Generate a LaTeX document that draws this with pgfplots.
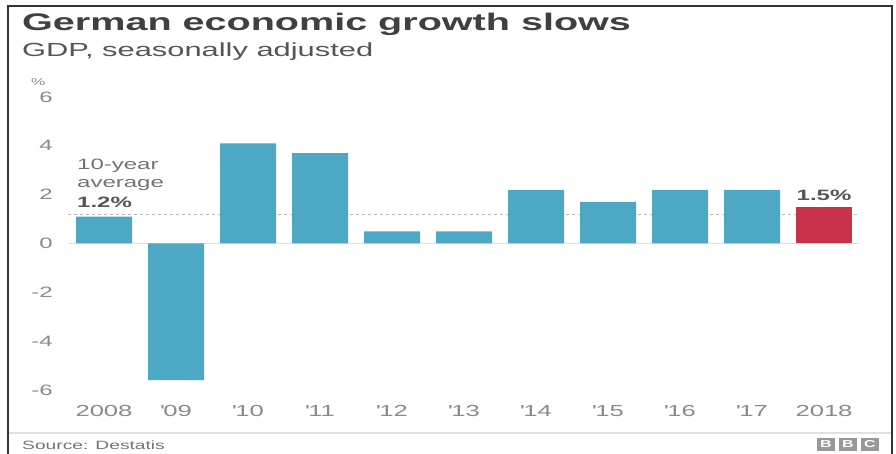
\documentclass[border=0pt]{standalone}
\usepackage{pgfplots}
\pgfplotsset{compat=1.18}
\usepackage{fontspec}
\setmainfont{Liberation Sans}[FakeStretch=1.6]
\definecolor{barblue}{HTML}{4DA8C6}
\definecolor{barred}{HTML}{C8334A}
\definecolor{titlegray}{HTML}{404040}
\definecolor{subgray}{HTML}{555555}
\definecolor{tickgray}{HTML}{8A8A8A}
\definecolor{avggray}{HTML}{C2B8B8}
\begin{document}
\begin{tikzpicture}
\useasboundingbox (0pt,0pt) rectangle (896pt,-454pt);
\fill[white] (0pt,0pt) rectangle (896pt,-454pt);
\draw[line width=2pt, color=black!80] (8pt,-454pt) -- (8pt,-6pt) -- (892pt,-6pt) -- (892pt,-454pt);
\draw[line width=1.5pt, color=black!12] (9pt,-433pt) -- (891pt,-433pt);
\node[anchor=base west, inner sep=0pt, text=titlegray, font=\bfseries\fontsize{24}{28}\selectfont] at (22pt,-31pt) {\scalebox{1.03}[1]{German economic growth slows}};
\node[anchor=base west, inner sep=0pt, text=subgray, font=\fontsize{19}{22}\selectfont] at (22pt,-57pt) {\scalebox{1.015}[1]{GDP, seasonally adjusted}};
\node[anchor=west, inner sep=0pt, text=tickgray, font=\fontsize{10}{12}\selectfont] at (31pt,-82pt) {\%};
\begin{axis}[
  at={(68pt,-390pt)}, anchor=south west,
  scale only axis, width=792pt, height=293pt,
  xmin=-0.5, xmax=10.5, ymin=-6, ymax=6,
  clip=false,
  axis line style={draw=none},
  major tick length=0pt,
  ybar, bar width=56pt, bar shift=0pt,
  ytick={-6,-4,-2,0,2,4,6},
  yticklabels={-6,-4,-2,0,2,4,6},
  xtick={0,1,2,3,4,5,6,7,8,9,10},
  xticklabels={2008,\textquotesingle09,\textquotesingle10,\textquotesingle11,\textquotesingle12,\textquotesingle13,\textquotesingle14,\textquotesingle15,\textquotesingle16,\textquotesingle17,2018},
  yticklabel style={inner sep=0pt, anchor=east, xshift=-15pt, text=tickgray, font=\fontsize{15}{18}\selectfont},
  xticklabel style={inner sep=0pt, anchor=base, yshift=-26.5pt, text=tickgray, font=\fontsize{16}{18}\selectfont},
]
\addplot[sharp plot, draw=black!12, line width=1.2pt, forget plot] coordinates {(-0.5,0) (10.5,0)};
\addplot[sharp plot, draw=avggray, line width=1.3pt, dash pattern=on 3pt off 3pt, forget plot] coordinates {(-0.5,1.2) (10.5,1.2)};
\addplot[fill=barblue, draw=none] coordinates {
(0,1.1) (1,-5.6) (2,4.1) (3,3.7) (4,0.5) (5,0.5) (6,2.2) (7,1.7) (8,2.2) (9,2.2)};
\addplot[fill=barred, draw=none] coordinates {(10,1.5)};
\node[anchor=base, inner sep=0pt, text=subgray, font=\bfseries\fontsize{15}{18}\selectfont] at (axis cs:10,1.5) [yshift=6pt] {1.5\%};
\end{axis}
\node[anchor=base west, inner sep=0pt, text=black!55, font=\fontsize{15}{18}\selectfont] at (77pt,-170pt) {10-year};
\node[anchor=base west, inner sep=0pt, text=black!55, font=\fontsize{15}{18}\selectfont] at (77pt,-188pt) {average};
\node[anchor=base west, inner sep=0pt, text=subgray, font=\bfseries\fontsize{15}{18}\selectfont] at (77pt,-208pt) {1.2\%};
\node[anchor=base west, inner sep=0pt, text=black!55, font=\fontsize{12}{14}\selectfont] at (22pt,-449pt) {Source: Destatis};
\foreach \x/\l in {826/B,848/B,870/C}{
  \node[fill=black!40, text=white, minimum width=18pt, minimum height=13pt, inner sep=0pt, font=\bfseries\fontsize{10}{10}\selectfont] at (\x pt,-444pt) {\l};
}
\end{tikzpicture}
\end{document}
